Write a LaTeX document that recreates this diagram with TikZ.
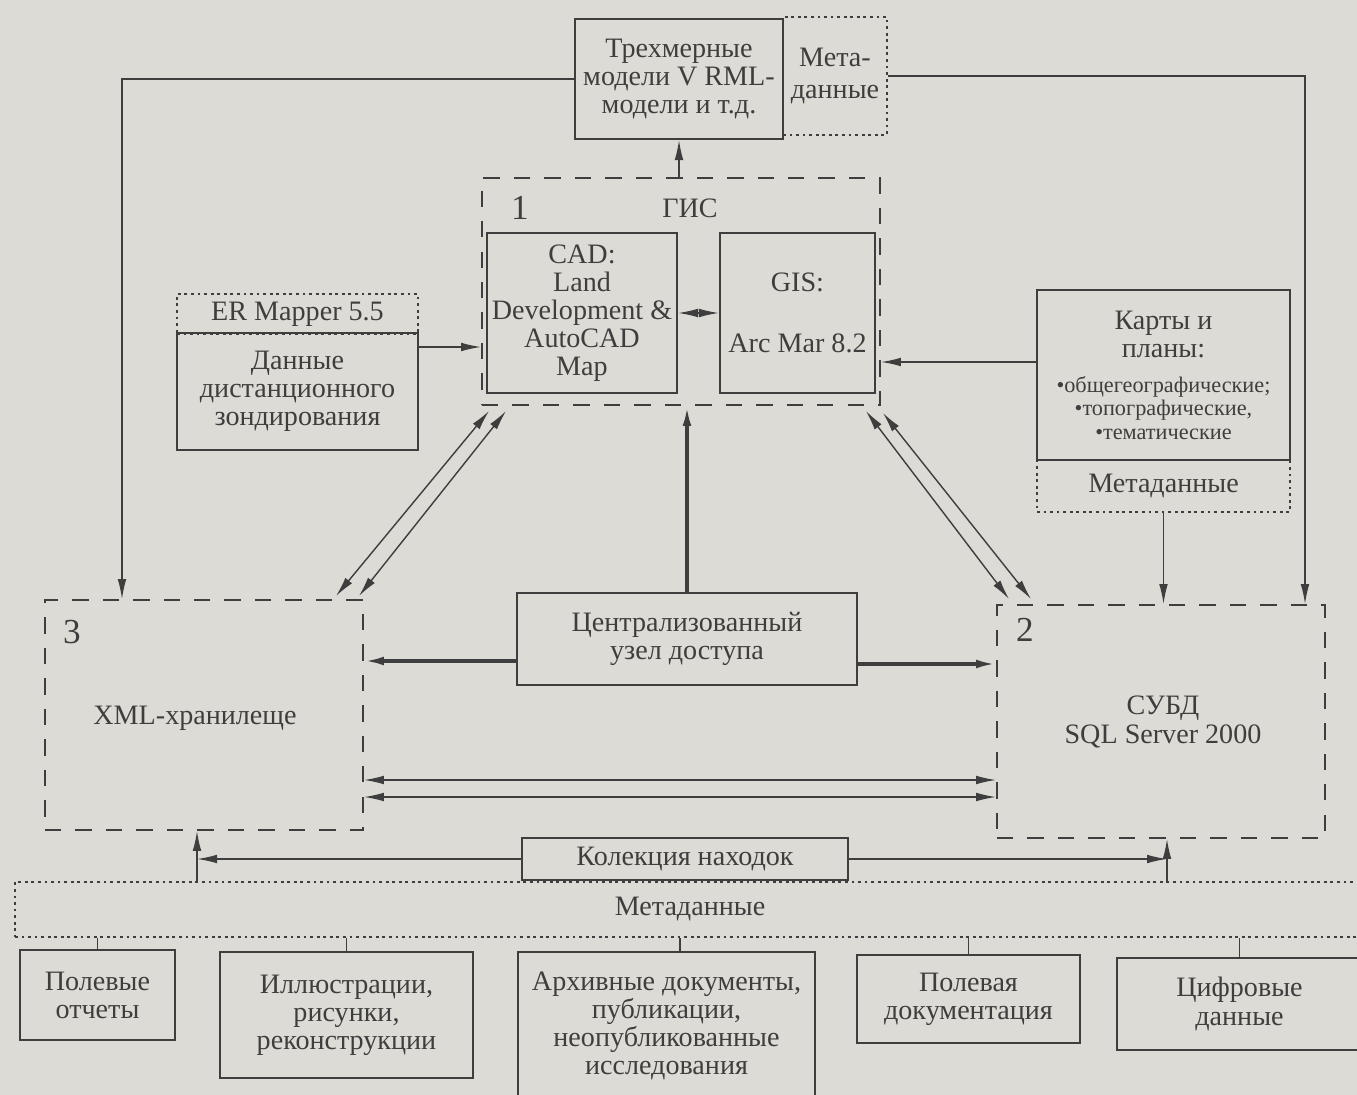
\documentclass[tikz,border=0pt]{standalone}
\usepackage{fontspec}
\setmainfont{Liberation Serif}
\usetikzlibrary{arrows.meta,calc}
\definecolor{paper}{RGB}{221,219,213}
\definecolor{ink}{RGB}{62,62,62}
\newcommand{\listfont}{\fontsize{9.5}{10}\selectfont}
\begin{document}
\begin{tikzpicture}[x=0.015cm, y=-0.015cm, text=ink,
    font=\fontsize{12}{12}\selectfont,
    >={Latex[length=3mm,width=1.3mm]},
    box/.style={draw=ink, line width=0.9pt, align=center, inner sep=2pt},
    group/.style={draw=ink, line width=0.8pt, dash pattern=on 7pt off 6pt},
    metabox/.style={draw=ink, line width=0.7pt, dash pattern=on 1.2pt off 1.6pt, align=center},
    link/.style={draw=ink, line width=0.6pt},
    mainlink/.style={draw=ink, line width=1.4pt},
    num/.style={font=\fontsize{15}{15}\selectfont}]
        % Фон
        \useasboundingbox (0,0) rectangle (1357,1095);
        \clip (0,0) rectangle (1357,1095);
        \fill[paper] (0,0) rectangle (1357,1095);
        % Верхний блок
        \node[box, minimum width=3.12cm, minimum height=1.8cm] (vrml) at (679,79) {Трехмерные\\модели V RML-\\модели и т.д.};
        \node[metabox, minimum width=1.56cm, minimum height=1.77cm] (metatop) at (835,76) {Мета-\\[2pt]данные};
        % ГИС
        \node[group, minimum width=5.97cm, minimum height=3.405cm] (gis) at (681,291.5) {};
        \node[num] (n1) at (520,208) {1};
        \node (gistitle) at (690,208) {ГИС};
        \node[box, minimum width=2.85cm, minimum height=2.4cm] (cad) at (582,313) {CAD:\\Land\\Development \&\\AutoCAD\\Map};
        \node[box, minimum width=2.325cm, minimum height=2.4cm] (arcmap) at (797.5,313) {GIS:\\[14pt]Arc Mar 8.2};
        % Данные ДЗ
        \node[metabox, minimum width=3.615cm, minimum height=0.57cm] (ermap) at (297.5,314) {ER Mapper 5.5};
        \node[box, minimum width=3.615cm, minimum height=1.755cm] (remote) at (297.5,391.5) {Данные\\дистанционного\\зондирования};
        % Карты и планы
        \node[box, minimum width=3.795cm, minimum height=2.55cm] (maps) at (1163.5,375) {Карты и\\планы:\\[3pt]\listfont •общегеографические;\\[-2pt]\listfont •топографические,\\[-2pt]\listfont •тематические};
        \node[metabox, minimum width=3.795cm, minimum height=0.78cm] (mapmeta) at (1163.5,486) {Метаданные};
        % Хранилища
        \node[group, minimum width=4.77cm, minimum height=3.45cm] (xml) at (204,715) {};
        \node[num] (n3) at (72,632) {3};
        \node (xmltext) at (195,718) {XML-хранилеще};
        \node[group, minimum width=4.92cm, minimum height=3.495cm] (dbms) at (1161,721.5) {};
        \node[num] (n2) at (1025,630) {2};
        \node[align=center] (dbmstext) at (1163,722) {СУБД\\SQL Server 2000};
        \node[box, minimum width=5.1cm, minimum height=1.38cm] (hub) at (687,639) {Централизованный\\узел доступа};
        % Нижняя часть
        \node[box, minimum width=4.89cm, minimum height=0.63cm] (finds) at (685,859) {Колекция находок};
        \node[metabox, minimum width=20.25cm, minimum height=0.825cm] (meta) at (690,909.5) {Метаданные};
        \node[box, minimum width=2.325cm, minimum height=1.35cm] (reports) at (97.5,995) {Полевые\\отчеты};
        \node[box, minimum width=3.795cm, minimum height=1.89cm] (illus) at (346.5,1015) {Иллюстрации,\\рисунки,\\реконструкции};
        \node[box, minimum width=4.455cm, minimum height=2.22cm] (archive) at (666.5,1026) {Архивные документы,\\публикации,\\неопубликованные\\исследования};
        \node[box, minimum width=3.345cm, minimum height=1.32cm] (fielddoc) at (968.5,999) {Полевая\\документация};
        \node[box, minimum width=3.675cm, minimum height=1.38cm] (digital) at (1239.5,1004) {Цифровые\\данные};
        % Связи
        \draw[mainlink,->] (hub.north) -- (hub.north |- gis.south);
        \draw[link,->] (vrml.south |- gis.north) -- (vrml.south);
        \draw[link,<->] (cad.east) -- (arcmap.west);
        \draw[link,->] (remote.east |- 0,347) -- (gis.west |- 0,347);
        \draw[link,->] (maps.west |- 0,362) -- (gis.east |- 0,362);
        \draw[link,->] (mapmeta.south) -- (mapmeta.south |- dbms.north);
        \draw[link,->] (vrml.west) -| (xml.north -| 122,0);
        \draw[link,->] (metatop.east) -| (dbms.north -| 1305,0);
        \draw[mainlink,->] (hub.west |- 0,661) -- (xml.east |- 0,661);
        \draw[mainlink,->] (hub.east |- 0,664) -- (dbms.west |- 0,664);
        \draw[link,<->] (xml.east |- 0,780) -- (dbms.west |- 0,780);
        \draw[link,<->] (xml.east |- 0,797) -- (dbms.west |- 0,797);
        % Диагональные связи
        \draw[link,<->] ($(gis.south west)+(8,5)$) -- ($(xml.north east)+(-28,-3)$);
        \draw[link,<->] ($(gis.south west)+(25,5)$) -- ($(xml.north east)+(-5,-3)$);
        \draw[link,<->] ($(gis.south east)+(-15,5)$) -- ($(dbms.north west)+(13,-5)$);
        \draw[link,<->] ($(gis.south east)+(2,7)$) -- ($(dbms.north west)+(35,-5)$);
        % Коллекция и метаданные
        \draw[link,->] (finds.west) -- (finds.west -| 197,0);
        \draw[link,->] (meta.north -| 197,0) -- (xml.south -| 197,0);
        \draw[link,->] (finds.east) -- (finds.east -| 1167,0);
        \draw[link,->] (meta.north -| 1167,0) -- (dbms.south -| 1167,0);
        \foreach \b in {reports,illus,fielddoc,digital}
            \draw[link] (\b.north |- meta.south) -- (\b.north);
        \draw[link] (meta.south -| 680,0) -- (archive.north -| 680,0);
\end{tikzpicture}
\end{document}
